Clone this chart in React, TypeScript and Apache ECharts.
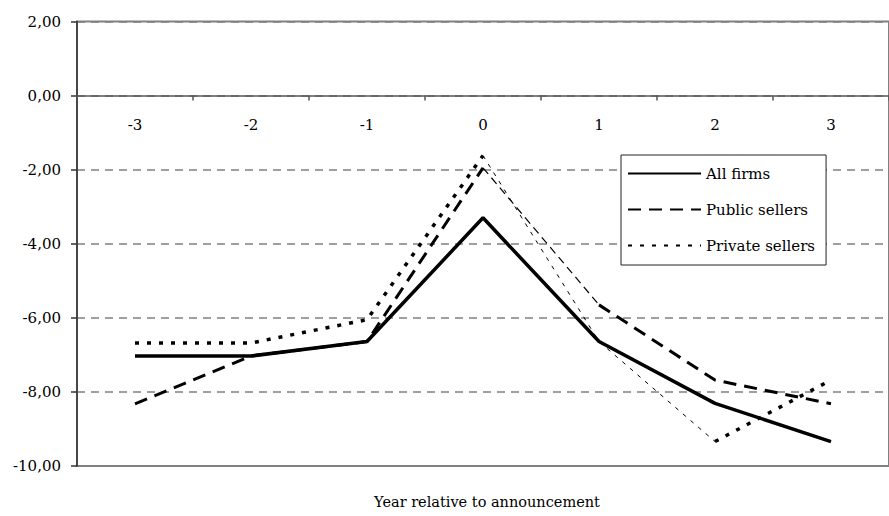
import React, { useEffect, useRef } from "react";
import * as echarts from "echarts";

const categories = ["-3", "-2", "-1", "0", "1", "2", "3"];
const allFirms = [-7.03, -7.03, -6.64, -3.3, -6.64, -8.31, -9.34];
const publicSellers = [-8.32, -7.03, -6.64, -1.95, -5.65, -7.68, -8.32];
const privateSellers = [-6.68, -6.68, -6.05, -1.62, -6.64, -9.34, -7.68];
const seriesNames = ["All firms", "Public sellers", "Private sellers"];
const axisTitle = "Year relative to announcement";

const FONT = "DejaVu Serif";

const GRID_TOP = 21.5;
const GRID_BOTTOM_PX = 466;
const Y_MIN = -10;
const Y_MAX = 2;

function seg(values: number[], from: number, to: number) {
  return values.map((v, i) => (i >= from && i <= to ? v : null));
}

export default function App() {
  const ref = useRef<HTMLDivElement>(null);
  useEffect(() => {
    if (!ref.current) return;
    const chart = echarts.init(ref.current, null, { renderer: "svg" });
    const base = {
      type: "line",
      symbol: "none",
      showSymbol: false,
      connectNulls: false,
      silent: true,
    };
    // distance (px) from the grid's bottom edge up to the value 0
    const zeroY = GRID_TOP + ((GRID_BOTTOM_PX - GRID_TOP) * (Y_MAX - 0)) / (Y_MAX - Y_MIN);
    const xOffset = -(GRID_BOTTOM_PX - zeroY);
    chart.setOption({
      animation: false,
      backgroundColor: "#ffffff",
      grid: {
        left: 77,
        right: -9,
        top: GRID_TOP,
        bottom: 516 - GRID_BOTTOM_PX,
        show: true,
        borderColor: "#808080",
        borderWidth: 2,
        backgroundColor: "transparent",
      },
      legend: {
        data: seriesNames,
        orient: "vertical",
        left: 621,
        top: 155,
        itemWidth: 73,
        itemHeight: 14,
        itemGap: 21,
        padding: [11, 11, 12, 6],
        backgroundColor: "#ffffff",
        borderColor: "#222222",
        borderWidth: 1,
        itemStyle: { color: "transparent", borderWidth: 0, opacity: 0 },
        textStyle: { fontFamily: FONT, fontSize: 15, color: "#000" },
        selectedMode: false,
      },
      xAxis: {
        type: "category",
        data: categories,
        boundaryGap: true,
        position: "bottom",
        offset: xOffset,
        axisLine: { onZero: false, lineStyle: { color: "#555555", width: 1.5 } },
        axisTick: { show: true, length: 5, lineStyle: { color: "#555555", width: 1.5 } },
        axisLabel: { margin: 22, fontFamily: FONT, fontSize: 15, color: "#000" },
        splitLine: { show: false },
      },
      yAxis: {
        type: "value",
        min: Y_MIN,
        max: Y_MAX,
        interval: 2,
        axisLine: { show: true, lineStyle: { color: "#333333", width: 1.5 } },
        axisTick: { show: true, length: 6, lineStyle: { color: "#333333", width: 1.5 } },
        axisLabel: {
          margin: 16,
          fontFamily: FONT,
          fontSize: 15,
          color: "#000",
          formatter: (v: number) => v.toFixed(2).replace(".", ","),
        },
        splitLine: { show: true, lineStyle: { color: "#808080", type: [8, 6], width: 1.5 } },
      },
      graphic: [
        {
          type: "text",
          x: 487,
          y: 502,
          style: {
            text: axisTitle,
            fontFamily: FONT,
            fontSize: 14.5,
            fill: "#000",
            textAlign: "center",
            textVerticalAlign: "middle",
          },
        },
      ],
      series: [
        {
          ...base,
          name: seriesNames[1],
          data: seg(publicSellers, 0, 3),
          lineStyle: { color: "#000", width: 3, type: [13, 8] },
          z: 3,
        },
        {
          ...base,
          name: "pub-b",
          data: seg(publicSellers, 3, 4),
          lineStyle: { color: "#000", width: 1.2, type: [8, 5] },
          z: 3,
        },
        {
          ...base,
          name: "pub-c",
          data: seg(publicSellers, 4, 6),
          lineStyle: { color: "#000", width: 3, type: [13, 8] },
          z: 3,
        },
        {
          ...base,
          name: seriesNames[2],
          data: seg(privateSellers, 0, 3),
          lineStyle: { color: "#000", width: 3.5, type: [4, 8] },
          z: 3,
        },
        {
          ...base,
          name: "priv-b",
          data: seg(privateSellers, 3, 5),
          lineStyle: { color: "#000", width: 1, type: [4, 6] },
          z: 3,
        },
        {
          ...base,
          name: "priv-c",
          data: seg(privateSellers, 5, 6),
          lineStyle: { color: "#000", width: 3.5, type: [4, 8] },
          z: 3,
        },
        {
          ...base,
          name: seriesNames[0],
          data: allFirms,
          lineStyle: { color: "#000", width: 3.5, type: "solid" },
          z: 4,
        },
      ],
    });
    return () => chart.dispose();
  }, []);
  return (
    <div
      ref={ref}
      style={{ position: "absolute", left: 0, top: 0, width: 889, height: 516 }}
    />
  );
}
